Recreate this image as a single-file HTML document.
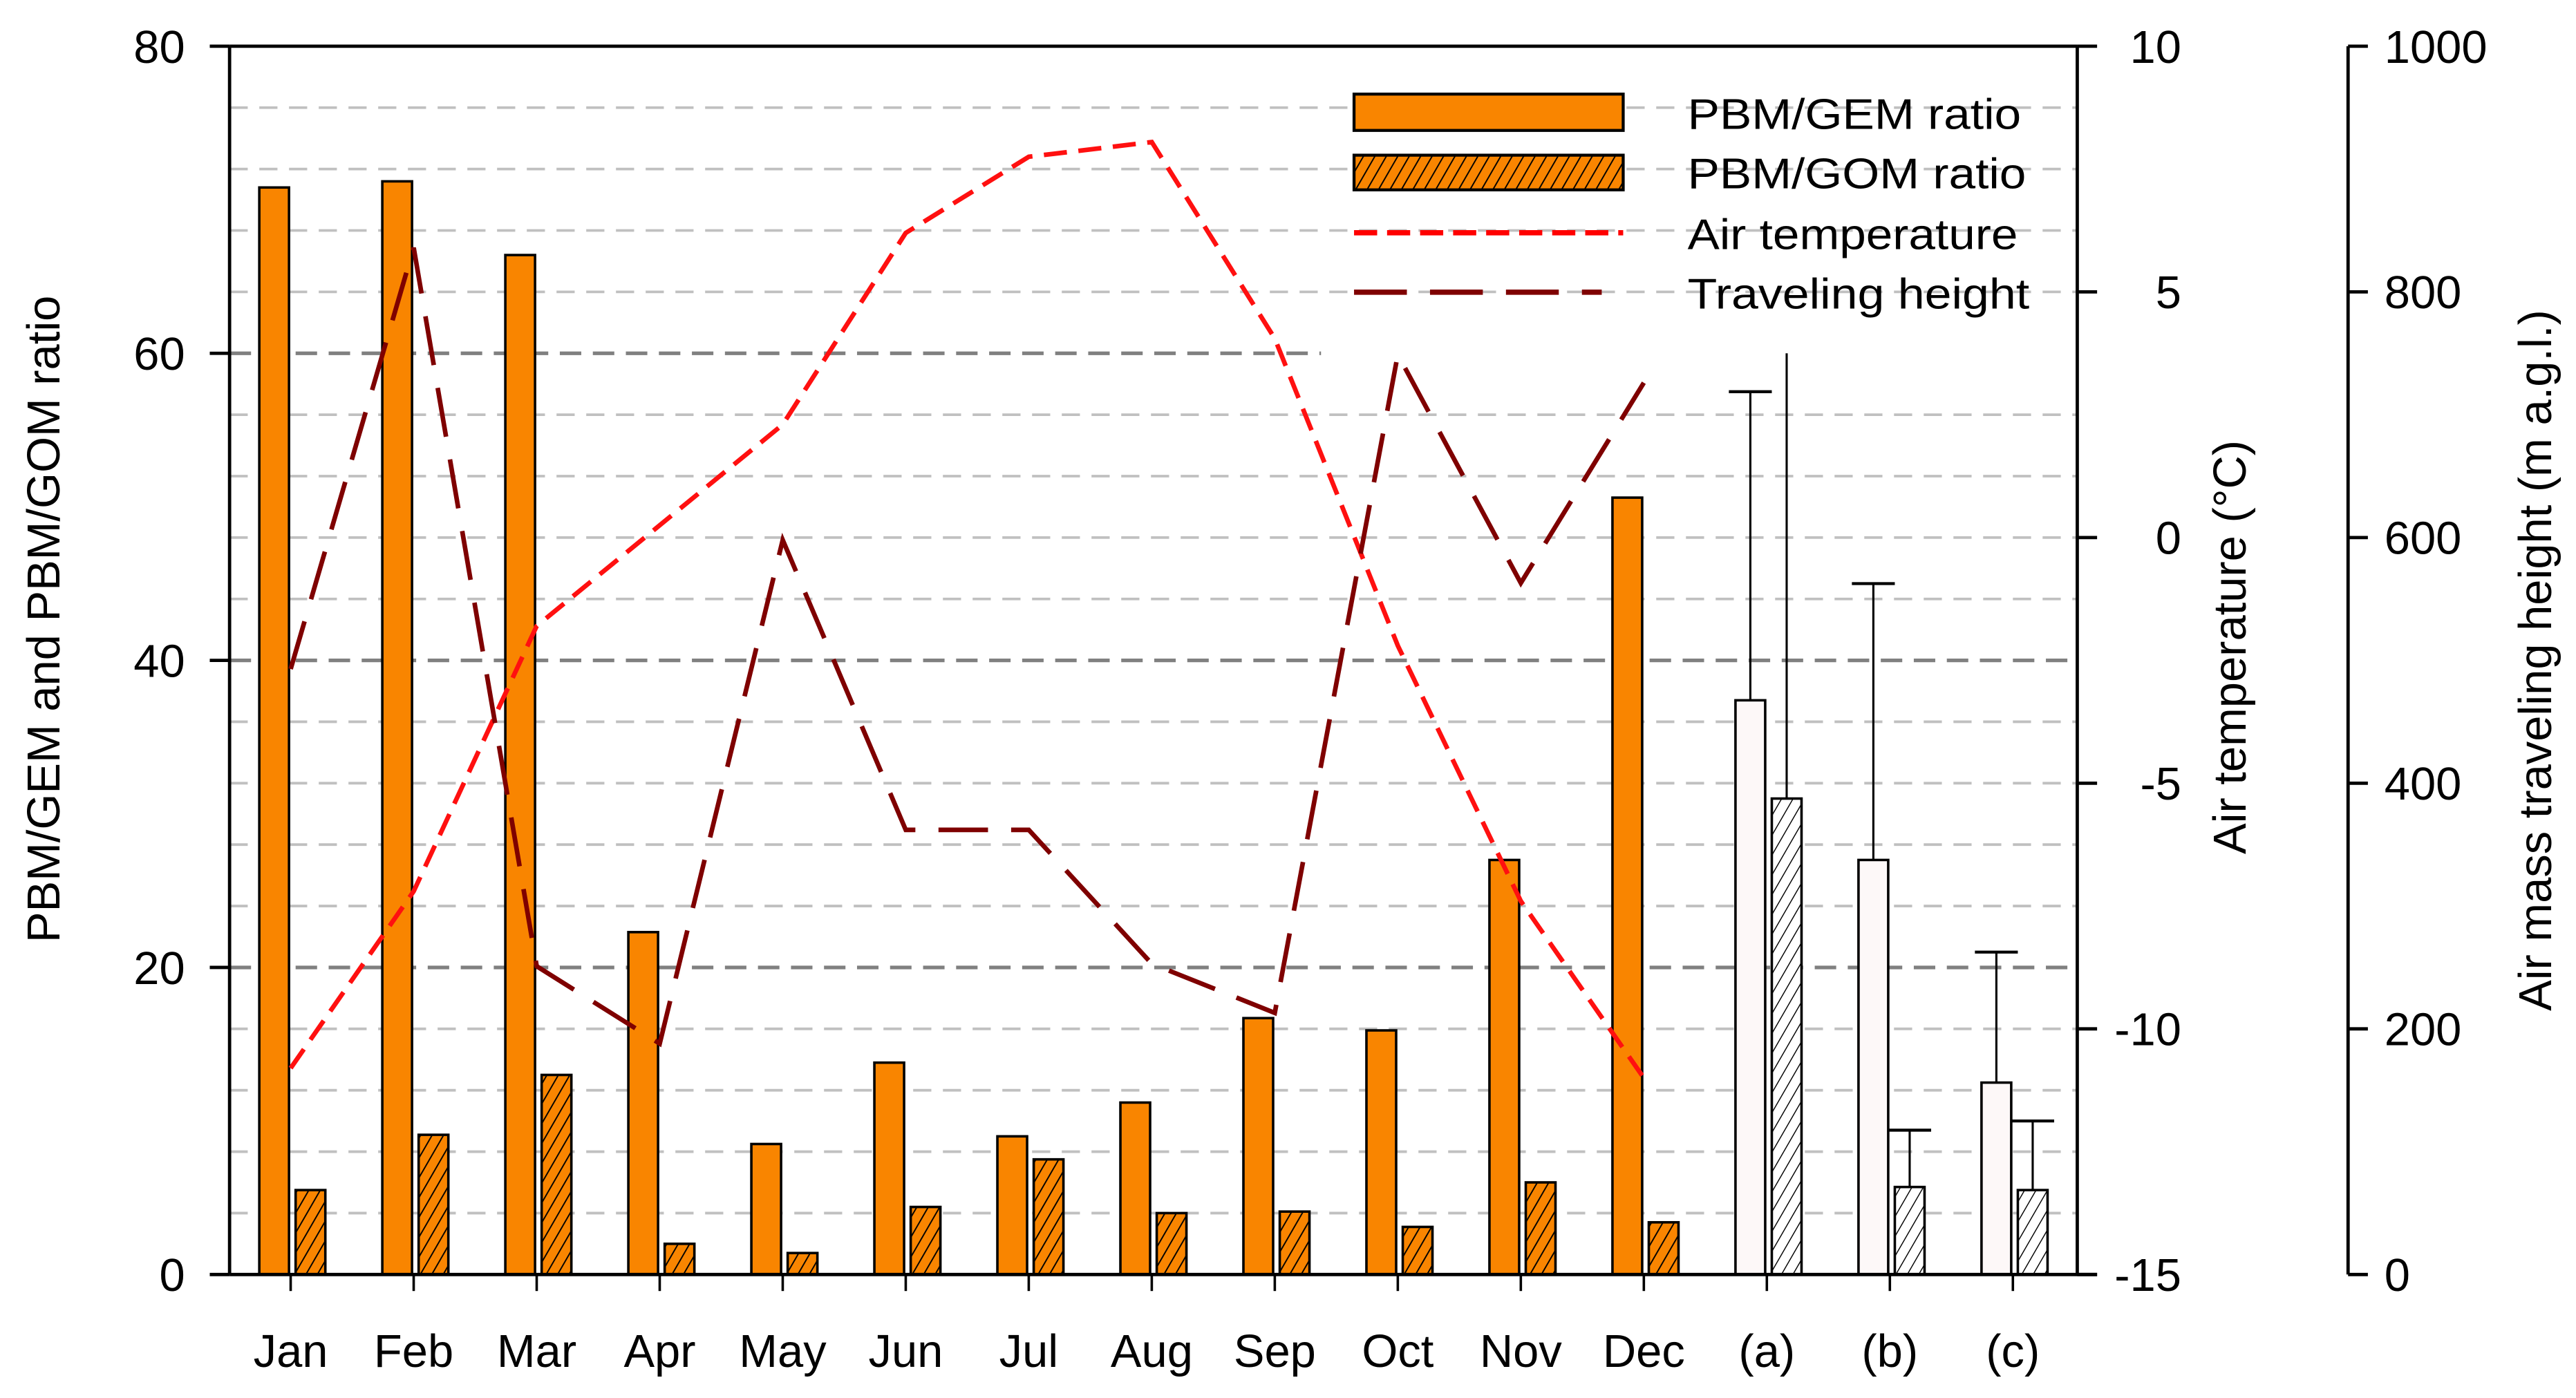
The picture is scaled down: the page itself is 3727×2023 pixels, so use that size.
<!DOCTYPE html>
<html><head><meta charset="utf-8"><style>
html,body{margin:0;padding:0;background:#fff;}
svg{display:block;}
text{font-family:"Liberation Sans",sans-serif;fill:#000;}
</style></head><body>
<svg id="chart" width="3727" height="2023" viewBox="0 0 1560 846.8" xmlns="http://www.w3.org/2000/svg">
<defs>
<pattern id="hatchO" patternUnits="userSpaceOnUse" width="6" height="6" patternTransform="rotate(30)">
<rect width="6" height="6" fill="#f98500"/><line x1="0" y1="0" x2="0" y2="6" stroke="#000" stroke-width="1.6"/></pattern>
<pattern id="hatchW" patternUnits="userSpaceOnUse" width="6" height="6" patternTransform="rotate(30)">
<rect width="6" height="6" fill="#fff"/><line x1="0" y1="0" x2="0" y2="6" stroke="#000" stroke-width="1.2"/></pattern>
</defs>
<g id="grid"></g><g id="bars"></g><g id="lines"></g><g id="axes"></g>
<g id="legend">
<rect x="820" y="57" width="163" height="22" fill="#f98500" stroke="#000" stroke-width="1.8"/>
<rect x="820" y="94" width="163" height="21" fill="url(#hatchO)" stroke="#000" stroke-width="1.8"/>
<line x1="820" y1="141" x2="983" y2="141" stroke="#f00" stroke-width="3.2" stroke-dasharray="14,6"/>
<line x1="820" y1="177" x2="970" y2="177" stroke="#7f0000" stroke-width="3.2" stroke-dasharray="32,14"/>
<text x="1022" y="78" font-size="26" textLength="202" lengthAdjust="spacingAndGlyphs">PBM/GEM ratio</text>
<text x="1022" y="114" font-size="26" textLength="205" lengthAdjust="spacingAndGlyphs">PBM/GOM ratio</text>
<text x="1022" y="151" font-size="26" textLength="200" lengthAdjust="spacingAndGlyphs">Air temperature</text>
<text x="1022" y="187" font-size="26" textLength="207" lengthAdjust="spacingAndGlyphs">Traveling height</text>
</g>
<text transform="translate(36,375) rotate(-90)" text-anchor="middle" font-size="28">PBM/GEM and PBM/GOM ratio</text>
<text transform="translate(1360,392) rotate(-90)" text-anchor="middle" font-size="28">Air temperature (°C)</text>
<text transform="translate(1545,400) rotate(-90)" text-anchor="middle" font-size="28">Air mass traveling height (m a.g.l.)</text>
</svg>
<script>
const categories=["Jan","Feb","Mar","Apr","May","Jun","Jul","Aug","Sep","Oct","Nov","Dec","(a)","(b)","(c)"];
const gemRatio=[70.8,71.2,66.4,22.3,8.5,13.8,9.0,11.2,16.7,15.9,27.0,50.6,37.4,27.0,12.5];
const gomRatio=[5.5,9.1,13.0,2.0,1.4,4.4,7.5,4.0,4.1,3.1,6.0,3.4,31.0,5.7,5.5];
const gemErrTop=[null,null,null,null,null,null,null,null,null,null,null,null,57.5,45,21];
const gomErrTop=[null,null,null,null,null,null,null,null,null,null,null,null,60,9.4,10];
const airTemp=[-10.8,-7.2,-1.8,0.25,2.3,6.2,7.75,8.05,4.05,-2.2,-7.4,-11.0];
const travelHeight=[493,836,251,188,598,362,362,253,213,749,563,726];
const leftTicks=[0,20,40,60,80];
const tempTicks=[-15,-10,-5,0,5,10];
const heightTicks=[0,200,400,600,800,1000];
const NS="http://www.w3.org/2000/svg";
const X0=139,X1=1258,YT=28,YB=772,XH=1422;
const yL=v=>YB-(v/80)*(YB-YT);
const yT=v=>YB-((v+15)/25)*(YB-YT);
const yH=v=>YB-(v/1000)*(YB-YT);
const xC=i=>176+i*74.5;
function mk(tag,attrs,parent){const e=document.createElementNS(NS,tag);for(const k in attrs)e.setAttribute(k,attrs[k]);document.getElementById(parent).appendChild(e);return e;}
for(let v=4;v<80;v+=4){
  const major=v%20===0;
  const g=mk('line',{x1:X0,x2:(v===60?800:X1),y1:yL(v),y2:yL(v),stroke:major?'#808080':'#c0c0c0','stroke-width':major?2.2:1.6,'stroke-dasharray':major?'13,7':'11,7'},'grid');
  
  
}
categories.forEach((c,i)=>{
  const white=i>=12;
  const cx=xC(i);
  const b1=mk('rect',{x:cx-19,y:yL(gemRatio[i]),width:18,height:YB-yL(gemRatio[i]),fill:white?'#fdf8f8':'#f98500',stroke:'#000','stroke-width':1.5},'bars');
  
  
  const b2=mk('rect',{x:cx+3,y:yL(gomRatio[i]),width:18,height:YB-yL(gomRatio[i]),fill:white?'url(#hatchW)':'url(#hatchO)',stroke:'#000','stroke-width':1.5},'bars');
  
  
  [[gemErrTop[i],gemRatio[i],cx-10,true],[gomErrTop[i],gomRatio[i],cx+12,gomErrTop[i]<59]].forEach(([t,b,x,cap])=>{
    if(t==null)return;
    const l=mk('line',{x1:x,x2:x,y1:yL(t),y2:yL(b),stroke:'#000','stroke-width':1.3},'bars');
    
    
    if(cap){const k=mk('line',{x1:x-13,x2:x+13,y1:yL(t),y2:yL(t),stroke:'#000','stroke-width':1.8},'bars');
    
    }
  });
  const tk=mk('line',{x1:cx,x2:cx,y1:YB,y2:YB+10,stroke:'#000','stroke-width':1.5},'axes');
  
  
  const t=mk('text',{x:cx,y:828,'text-anchor':'middle','font-size':28},'axes');
  t.textContent=c;
  
  
});
const tp=airTemp.map((v,i)=>xC(i)+','+yT(v)).join(' ');
const tl=mk('polyline',{points:tp,fill:'none',stroke:'#ff1010','stroke-width':2.8,'stroke-dasharray':'14,7'},'lines');


const hp=travelHeight.map((v,i)=>xC(i)+','+yH(v)).join(' ');
const hl=mk('polyline',{points:hp,fill:'none',stroke:'#7f0000','stroke-width':2.8,'stroke-dasharray':'30,14'},'lines');


[[X0,YT,X1,YT,'top-border'],[X0,YT,X0,YB,'left-axis'],[X0,YB,X1+12,YB,'x-axis'],[X1,YT,X1,YB,'temp-axis'],[XH,YT,XH,YB,'height-axis']].forEach(a=>{
  const l=mk('line',{x1:a[0],y1:a[1],x2:a[2],y2:a[3],stroke:'#000','stroke-width':2},'axes');
  
  
});
leftTicks.forEach(v=>{
  const l=mk('line',{x1:X0-12,x2:X0,y1:yL(v),y2:yL(v),stroke:'#000','stroke-width':2},'axes');
  
  
  const t=mk('text',{x:112,y:yL(v)+10,'text-anchor':'end','font-size':28},'axes');t.textContent=v;
  
  
});
tempTicks.forEach(v=>{
  const l=mk('line',{x1:X1,x2:X1+12,y1:yT(v),y2:yT(v),stroke:'#000','stroke-width':2},'axes');
  
  
  const t=mk('text',{x:1321,y:yT(v)+10,'text-anchor':'end','font-size':28},'axes');t.textContent=v;
  
  
});
heightTicks.forEach(v=>{
  const l=mk('line',{x1:XH,x2:XH+12,y1:yH(v),y2:yH(v),stroke:'#000','stroke-width':2},'axes');
  
  
  const t=mk('text',{x:1444,y:yH(v)+10,'text-anchor':'start','font-size':28},'axes');t.textContent=v;
  
  
});
</script>
</body></html>
